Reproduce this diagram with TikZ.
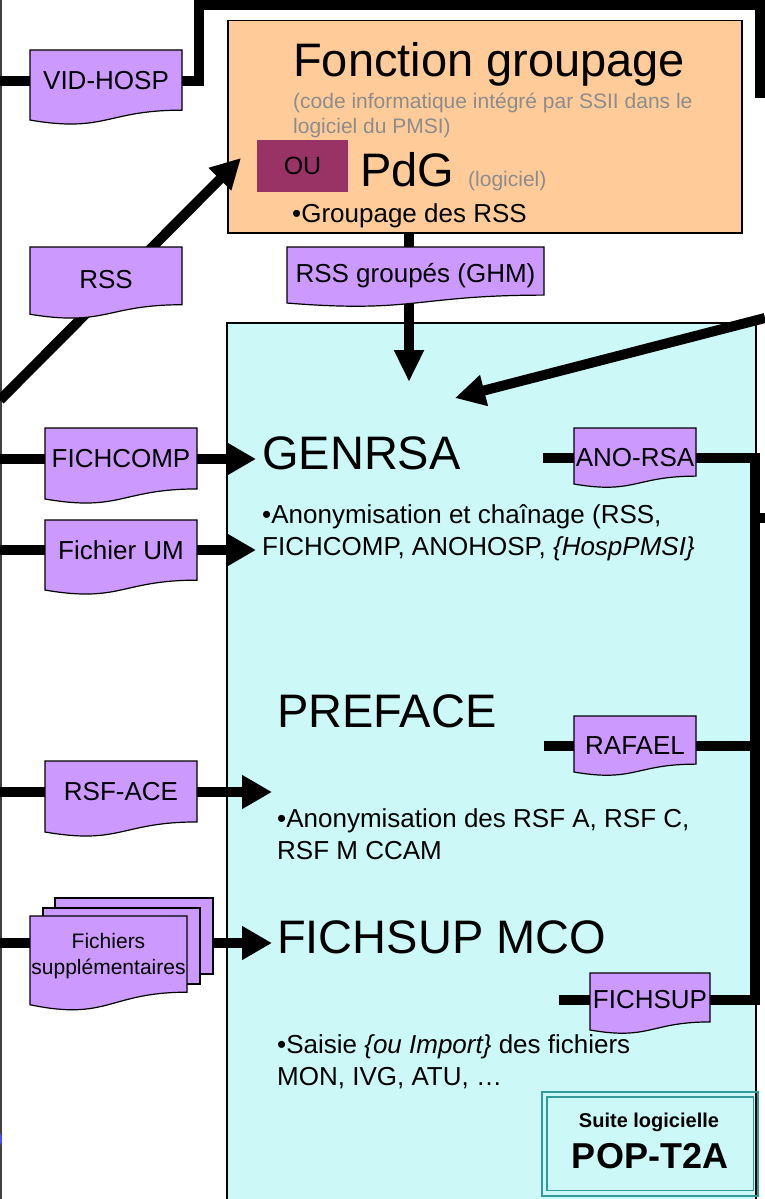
\documentclass[tikz,border=0pt]{standalone}
\usepackage{fontspec}
\setmainfont{Liberation Sans}
\usetikzlibrary{arrows.meta,calc}
\definecolor{docfill}{HTML}{CC99FF}
\definecolor{orfill}{HTML}{FFCC99}
\definecolor{oufill}{HTML}{993366}
\definecolor{cyfill}{HTML}{CCF8F8}
\definecolor{tealb}{HTML}{339999}
\definecolor{graytxt}{HTML}{8C8C8C}
\pgfdeclarelayer{bg}
\pgfdeclarelayer{conn}
\pgfdeclarelayer{docs}
\pgfsetlayers{bg,conn,docs,main}
\newcommand\fsz[2]{\fontsize{#1}{#2}\selectfont}
% name, x1, ytop, x2, h, ycenter, fontsize, skip, text
\newcommand\docbox[9]{%
  \begin{pgfonlayer}{docs}
  \filldraw[docline] (#2,#3) -- (#4,#3) -- (#4,{#3+0.802*#5})
    .. controls ({(#2+#4)/2},{#3+0.802*#5}) and ({(#2+#4)/2},{#3+1.107*#5}) .. (#2,{#3+0.934*#5}) -- cycle;
  \end{pgfonlayer}
  \node[doclabel, font=\fsz{#7}{#8}, minimum width={(#4-#2)*1pt}] (#1) at ({(#2+#4)/2},#6) {#9};
}
\begin{document}
\begin{tikzpicture}[x=1pt, y=-1pt,
  conn/.style={line width=10pt, line join=miter},
  arr/.style={-{Triangle[length=30pt,width=30pt]}},
  arrv/.style={-{Triangle[length=32pt,width=28pt]}},
  arrh/.style={-{Triangle[length=30pt,width=32pt]}},
  docline/.style={fill=docfill, draw=black, line width=1.2pt},
  doclabel/.style={inner sep=0pt, align=center},
  stackbox/.style={draw=black, fill=docfill, line width=1.5pt, inner sep=0pt},
  txt/.style={inner sep=0pt, anchor=base west}]
\useasboundingbox (0,0) rectangle (765,1199);

% ---------- background boxes ----------
\begin{pgfonlayer}{bg}
  \fill[white] (0,0) rectangle (765,1199);
  \draw[line width=2pt, black!75] (1,0) -- (1,1199);
  \fill[blue!70] (0,1139) ellipse (2 and 6);
  \node[draw=black, fill=orfill, line width=1.5pt, minimum width=514pt, minimum height=212pt,
        inner sep=0pt, anchor=north west] (fg) at (227,20) {};
  \fill[cyfill] (227,323) rectangle (756,1205);
  \draw[line width=1.5pt] (756,1205) -- (756,323) -- (227,323) -- (227,1205);
\end{pgfonlayer}

% ---------- document boxes ----------
\docbox{vid}{30}{50}{182}{75}{81}{26}{31}{VID-HOSP}
\docbox{rss}{30}{247}{182}{72}{280}{26}{31}{RSS}
\docbox{rssg}{287}{247}{544}{60}{276}{26}{31}{RSS groupés (GHM)}
\docbox{fc}{45}{428}{197}{76}{459}{26}{31}{FICHCOMP}
\docbox{um}{45}{520}{197}{75}{550}{26}{31}{Fichier UM}
\docbox{rsf}{45}{761}{197}{76}{792}{26}{31}{RSF-ACE}
\begin{pgfonlayer}{docs}
  \node[stackbox, minimum width=158pt, minimum height=76pt, anchor=north west] (fichB) at (54,897) {};
  \node[stackbox, minimum width=157pt, minimum height=76pt, anchor=north west] (fichM) at (42,907) {};
\end{pgfonlayer}
\docbox{fichF}{30}{916}{187}{95}{956}{21}{26}{Fichiers\\supplémentaires}
\docbox{ano}{574}{428}{696}{60}{458}{26}{31}{ANO-RSA}
\docbox{raf}{574}{716}{696}{60}{746}{26}{31}{RAFAEL}
\docbox{fsup}{590}{973}{710}{61}{1000}{26}{31}{FICHSUP}

% ---------- connector end points ----------
\coordinate (Lvid) at (0,81);
\coordinate (topL) at (199,5);
\coordinate (topR) at (760,98);
\coordinate (Lrss) at (0,400);
\coordinate (tipRSS) at (241,158);
\coordinate (tipG) at (409,382);
\coordinate (Rdiag) at (765,318);
\coordinate (tipDiag) at (455,398);
\coordinate (Lfc) at (0,459);
\coordinate (tipFC) at (256,459);
\coordinate (Lum) at (0,550);
\coordinate (tipUM) at (256,550);
\coordinate (Lrsf) at (0,792);
\coordinate (tipRSF) at (272,792);
\coordinate (Lfs) at (0,943);
\coordinate (tipFS) at (272,943);
\coordinate (Lano) at (543,458);
\coordinate (Lraf) at (544,746);
\coordinate (Lfsup) at (559,1000);
\coordinate (bus) at (755,1000);
\coordinate (stubA) at (755,518);
\coordinate (stubB) at (766,518);

% ---------- connectors ----------
\begin{pgfonlayer}{conn}
  \draw[conn] (Lvid) -- (vid.west);
  \draw[conn] (vid.east) -| (topL) -| (topR);
  \draw[conn, arr] (Lrss) -- (tipRSS);
  \draw[conn, arrv] (fg.south -| tipG) -- (tipG);
  \draw[conn, arr] (Rdiag) -- (tipDiag);
  \draw[conn] (Lfc) -- (fc.west);
  \draw[conn, arrh] (fc.east) -- (tipFC);
  \draw[conn] (Lum) -- (um.west);
  \draw[conn, arrh] (um.east) -- (tipUM);
  \draw[conn] (Lrsf) -- (rsf.west);
  \draw[conn, arrh] (rsf.east) -- (tipRSF);
  \draw[conn] (Lfs) -- (fichF.west |- Lfs);
  \draw[conn, arrh] (fichB.east |- tipFS) -- (tipFS);
  \draw[conn] (Lano) -- (ano.west);
  \draw[conn] (ano.east) -| (bus) -- (fsup.east);
  \draw[conn] (Lraf) -- (raf.west);
  \draw[conn] (raf.east) -- (raf.east -| bus);
  \draw[conn] (Lfsup) -- (fsup.west);
  \draw[conn] (stubA) -- (stubB);
\end{pgfonlayer}

% ---------- texts (base = baseline of last line) ----------
\node[txt, font=\fsz{47}{56}] (tFG) at (293,77) {Fonction groupage};
\node[txt, font=\fsz{21}{25}, text=graytxt, align=left] (tCode) at (293,133)
  {(code informatique intégré par SSII dans le\\logiciel du PMSI)};
\node[fill=oufill, minimum width=91pt, minimum height=52pt, inner sep=0pt, font=\fsz{25}{30}] (ou) at (302.5,166) {OU\hspace{12pt}};
\node[txt, font=\fsz{47}{56}] (pdg) at (360,186) {PdG};
\node[txt, font=\fsz{21}{25}, text=graytxt] (logi) at (468,186) {(logiciel)};
\node[txt, font=\fsz{26}{31}] (grp) at (292,222) {•Groupage des RSS};

\node[txt, font=\fsz{47}{56}] (genrsa) at (262,469) {GENRSA};
\node[txt, font=\fsz{26}{32}, align=left] (anon1) at (262,555)
  {•Anonymisation et chaînage (RSS,\\FICHCOMP, ANOHOSP, \textit{\{HospPMSI\}}};
\node[txt, font=\fsz{47}{56}] (preface) at (277,727) {PREFACE};
\node[txt, font=\fsz{26}{32}, align=left] (anon2) at (277,859)
  {•Anonymisation des RSF A, RSF C,\\RSF M CCAM};
\node[txt, font=\fsz{47}{56}] (fichsup) at (277,953) {FICHSUP MCO};
\node[txt, font=\fsz{26}{32}, align=left] (saisie) at (277,1085)
  {•Saisie \textit{\{ou Import\}} des fichiers\\MON, IVG, ATU, …};

% ---------- suite box ----------
\node[draw=tealb, line width=1.5pt, minimum width=216pt, minimum height=104pt,
      inner sep=0pt, anchor=north west] (suite) at (541,1091) {};
\draw[tealb, line width=1.5pt] ($(suite.north west)+(6,6)$) rectangle ($(suite.south east)+(-5,-6)$);
\node[font=\bfseries\fsz{20}{24}, anchor=base, inner sep=0pt] (suiteA) at (649,1127) {Suite logicielle};
\node[font=\bfseries\fsz{36}{40}, anchor=base, inner sep=0pt] (suiteB) at (650,1168) {POP-T2A};
\end{tikzpicture}
\end{document}
